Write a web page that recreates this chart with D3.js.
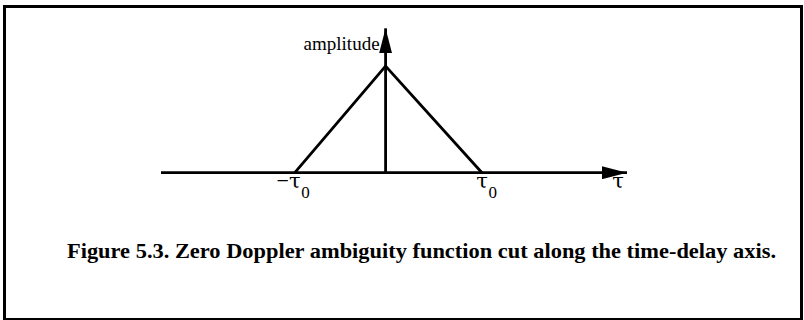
<!DOCTYPE html>
<html>
<head>
<meta charset="utf-8">
<script src="https://cdn.jsdelivr.net/npm/d3@7/dist/d3.min.js"></script>
<style>
  html, body { margin: 0; padding: 0; background: #fff; }
  svg { display: block; }
  text { font-family: "Liberation Serif", "Times New Roman", serif; fill: #000; }
  .greek { font-family: "DejaVu Serif", serif; }
</style>
</head>
<body>
<svg id="chart" width="804" height="320"></svg>
<script>
// Time delay in units of tau0, and the matching zero-Doppler amplitude
const tau = [-0.97, 0, 1.03];
const amplitude = [0, 1, 0];

// Axis extents (tau0 units / normalised amplitude)
const tauAxisRange = [-2.4, 2.58];
const ampAxisTop = 1.353;

// Tick positions and their labels along the delay axis
const tickValues = [-0.97, 1.03];
const tickSigns = ["\u2212", ""];
const tickSymbols = ["\u03C4", "\u03C4"];
const tickSubscripts = ["0", "0"];

const axisTitleX = "\u03C4";
const axisTitleY = "amplitude";
const caption = "Figure 5.3. Zero Doppler ambiguity function cut along the time-delay axis.";

const svg = d3.select("#chart");

// Frame around the figure
svg.append("rect")
  .attr("x", 4.5).attr("y", 6.5)
  .attr("width", 797).attr("height", 313)
  .attr("fill", "none").attr("stroke", "#000").attr("stroke-width", 3);

const x = d3.scaleLinear().domain(tauAxisRange).range([161, 627]);
const y = d3.scaleLinear().domain([0, 1]).range([172.7, 66]);

const defs = svg.append("defs");
defs.append("marker")
  .attr("id", "arrow")
  .attr("viewBox", "0 0 25 13")
  .attr("refX", 25).attr("refY", 6.5)
  .attr("markerWidth", 25).attr("markerHeight", 13)
  .attr("markerUnits", "userSpaceOnUse")
  .attr("orient", "auto")
  .append("path")
  .attr("d", "M0,0 L25,6.5 L0,13 Z")
  .attr("fill", "#000");

const stroke = 2.8;

// Horizontal (delay) axis
svg.append("line")
  .attr("x1", x(tauAxisRange[0])).attr("y1", y(0))
  .attr("x2", x(tauAxisRange[1])).attr("y2", y(0))
  .attr("stroke", "#000").attr("stroke-width", stroke)
  .attr("marker-end", "url(#arrow)");

// Vertical (amplitude) axis
svg.append("line")
  .attr("x1", x(0)).attr("y1", y(0))
  .attr("x2", x(0)).attr("y2", y(ampAxisTop))
  .attr("stroke", "#000").attr("stroke-width", stroke)
  .attr("marker-end", "url(#arrow)");

// Triangular cut
const pts = tau.map((t, i) => [t, amplitude[i]]);
svg.append("path")
  .datum(pts)
  .attr("d", d3.line().x(d => x(d[0])).y(d => y(d[1])))
  .attr("fill", "none")
  .attr("stroke", "#000")
  .attr("stroke-width", stroke)
  .attr("stroke-linejoin", "miter");

// Tick labels: tau glyph centred on the tick, sign before it, subscript after it
tickValues.forEach((v, i) => {
  const cx = x(v);
  svg.append("text")
    .attr("class", "greek")
    .attr("x", cx).attr("y", 188)
    .attr("text-anchor", "middle")
    .attr("font-size", 21)
    .text(tickSymbols[i]);
  if (tickSigns[i]) {
    svg.append("text")
      .attr("x", cx - 6).attr("y", 188)
      .attr("text-anchor", "end")
      .attr("font-size", 22)
      .text(tickSigns[i]);
  }
  svg.append("text")
    .attr("x", cx + 6.5).attr("y", 198)
    .attr("font-size", 17)
    .text(tickSubscripts[i]);
});

// Axis titles
svg.append("text")
  .attr("class", "greek")
  .attr("x", 618).attr("y", 188)
  .attr("text-anchor", "middle")
  .attr("font-size", 21)
  .text(axisTitleX);

svg.append("text")
  .attr("x", x(0) - 6).attr("y", 50)
  .attr("text-anchor", "end")
  .attr("font-size", 19)
  .text(axisTitleY);

// Caption
svg.append("text")
  .attr("x", 67).attr("y", 258)
  .attr("font-size", 22)
  .attr("font-weight", "bold")
  .attr("textLength", 709)
  .attr("lengthAdjust", "spacingAndGlyphs")
  .text(caption);
</script>
</body>
</html>
